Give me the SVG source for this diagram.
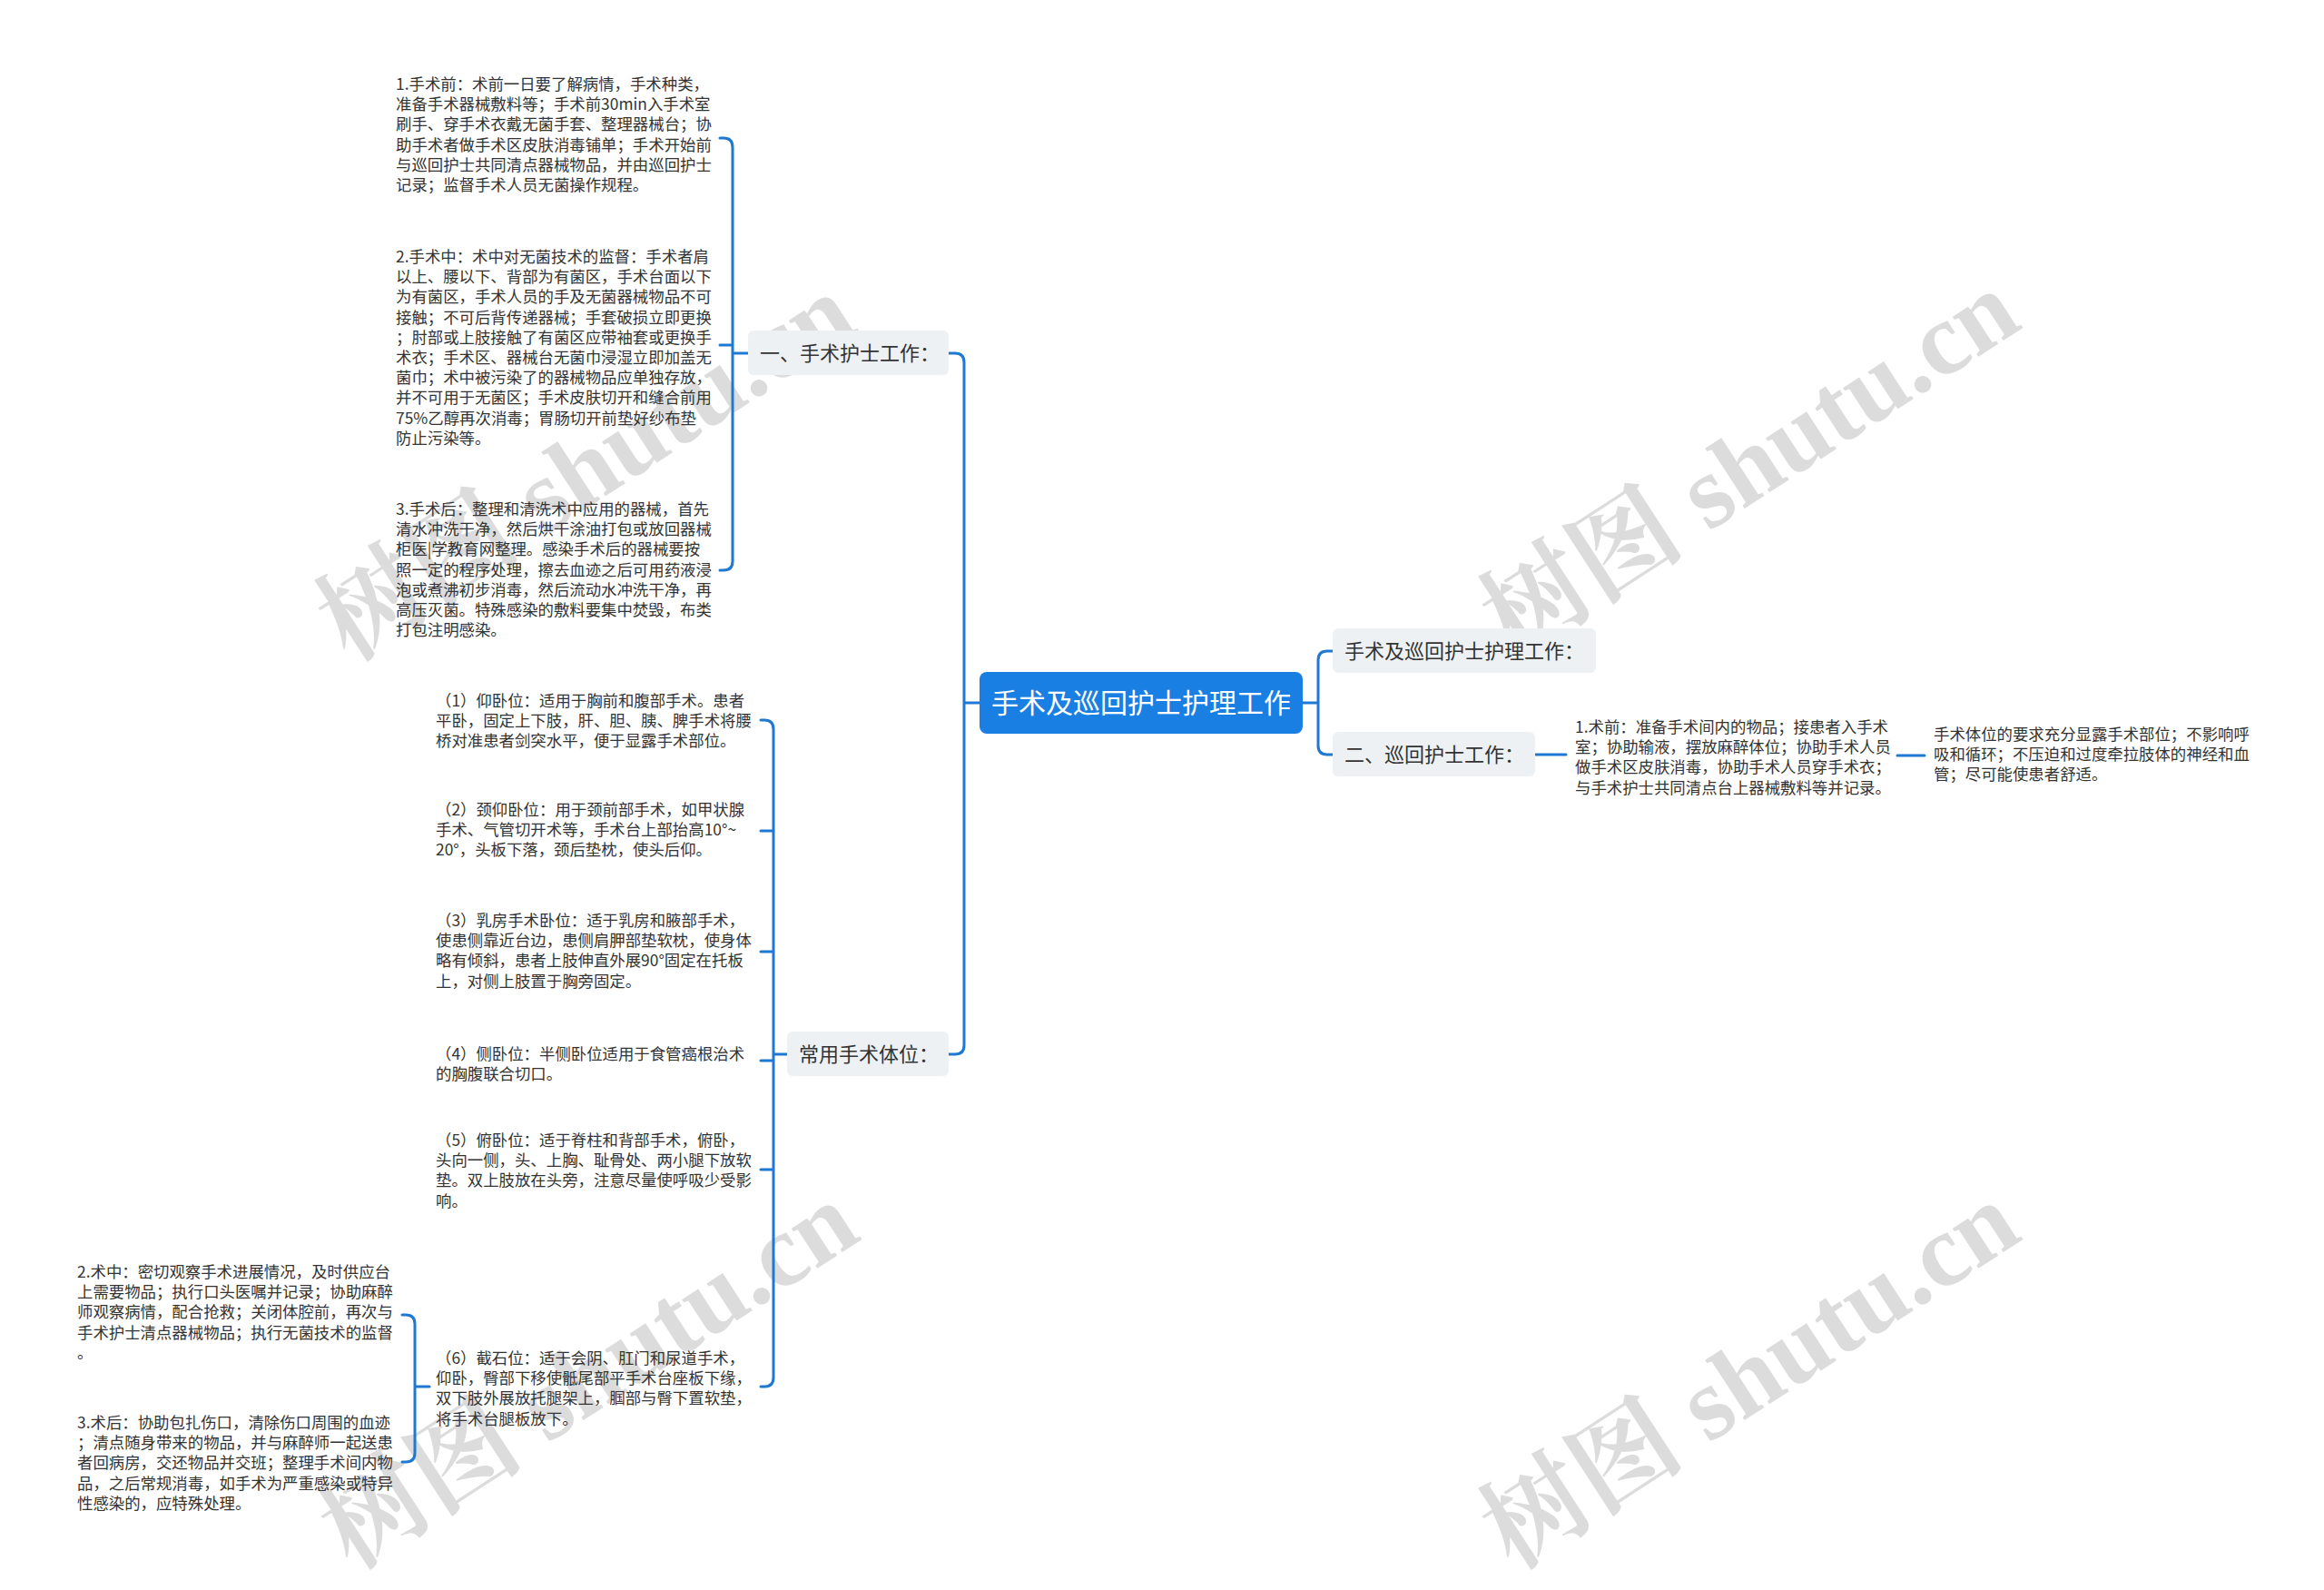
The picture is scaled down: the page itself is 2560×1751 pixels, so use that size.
<svg xmlns="http://www.w3.org/2000/svg" width="2560" height="1751" viewBox="0 0 2560 1751">
<style>
.t{font-family:"Noto Sans CJK SC","Noto Sans",sans-serif;font-size:17.4px;fill:#333}
.n{font-family:"Noto Sans CJK SC","Noto Sans",sans-serif;font-size:22px;fill:#333}
.box{fill:#eef1f4}
.c{fill:none;stroke:#1f78d1;stroke-width:3;stroke-linecap:round}
.wm{font-family:"Liberation Serif","Noto Serif CJK SC","Noto Sans CJK SC",serif;font-size:114px;font-weight:bold;fill:#cfcfcf;opacity:0.72}
</style>
<rect width="2560" height="1751" fill="#fff"/>
<g id="watermarks">
<text class="wm" x="645" y="553" text-anchor="middle" transform="rotate(-33 645 514)">树图 shutu.cn</text>
<text class="wm" x="1927" y="549" text-anchor="middle" transform="rotate(-33 1927 510)">树图 shutu.cn</text>
<text class="wm" x="648" y="1553" text-anchor="middle" transform="rotate(-33 648 1514)">树图 shutu.cn</text>
<text class="wm" x="1927" y="1553" text-anchor="middle" transform="rotate(-33 1927 1514)">树图 shutu.cn</text>
</g>
<g id="connectors">
<path class="c" d="M1045,389 H1052 Q1062,389 1062,399 V1151 Q1062,1161 1052,1161 H1045 M1062,774 H1079"/>
<path class="c" d="M1468,717 H1462 Q1452,717 1452,727 V821 Q1452,831 1462,831 H1468 M1435,774 H1452"/>
<path class="c" d="M1691,831 H1725 M2090,832 H2120"/>
<path class="c" d="M793,152 H797 Q807,152 807,162 V618 Q807,628 797,628 H793 M793,380 H807 M807,389 H824"/>
<path class="c" d="M838,793 H842 Q852,793 852,803 V1517 Q852,1527 842,1527 H838 M838,915 H852 M838,1048 H852 M838,1168 H852 M838,1288 H852 M852,1161 H867"/>
<path class="c" d="M473,1527 H457 M443,1448 H447 Q457,1448 457,1458 V1600 Q457,1610 447,1610 H443"/>
</g>
<g id="root">
<rect x="1079" y="740" width="356" height="68" rx="8" fill="#1a7fe3"/>
<text x="1257" y="785" text-anchor="middle" font-family="Noto Sans CJK SC,sans-serif" font-size="30" fill="#fff">手术及巡回护士护理工作</text>
</g>
<g id="n-right1">
<rect class="box" x="1468" y="692" width="290" height="49" rx="6"/>
<text class="n" x="1481" y="724.5">手术及巡回护士护理工作：</text>
</g>
<g id="n-right2">
<rect class="box" x="1468" y="806" width="223" height="49" rx="6"/>
<text class="n" x="1481" y="838.5">二、巡回护士工作：</text>
</g>
<g id="n-left1">
<rect class="box" x="824" y="364" width="221" height="49" rx="6"/>
<text class="n" x="837" y="396.5">一、手术护士工作：</text>
</g>
<g id="n-left2">
<rect class="box" x="867" y="1136" width="178" height="49" rx="6"/>
<text class="n" x="880" y="1168.5">常用手术体位：</text>
</g>
<g id="t-pre">
<text class="t" x="436" y="99"><tspan x="436">1.手术前：术前一日要了解病情，手术种类，</tspan><tspan x="436" dy="22.2">准备手术器械敷料等；手术前30min入手术室</tspan><tspan x="436" dy="22.2">刷手、穿手术衣戴无菌手套、整理器械台；协</tspan><tspan x="436" dy="22.2">助手术者做手术区皮肤消毒铺单；手术开始前</tspan><tspan x="436" dy="22.2">与巡回护士共同清点器械物品，并由巡回护士</tspan><tspan x="436" dy="22.2">记录；监督手术人员无菌操作规程。</tspan></text>
</g>
<g id="t-mid">
<text class="t" x="436" y="289"><tspan x="436">2.手术中：术中对无菌技术的监督：手术者肩</tspan><tspan x="436" dy="22.2">以上、腰以下、背部为有菌区，手术台面以下</tspan><tspan x="436" dy="22.2">为有菌区，手术人员的手及无菌器械物品不可</tspan><tspan x="436" dy="22.2">接触；不可后背传递器械；手套破损立即更换</tspan><tspan x="436" dy="22.2">；肘部或上肢接触了有菌区应带袖套或更换手</tspan><tspan x="436" dy="22.2">术衣；手术区、器械台无菌巾浸湿立即加盖无</tspan><tspan x="436" dy="22.2">菌巾；术中被污染了的器械物品应单独存放，</tspan><tspan x="436" dy="22.2">并不可用于无菌区；手术皮肤切开和缝合前用</tspan><tspan x="436" dy="22.2">75%乙醇再次消毒；胃肠切开前垫好纱布垫</tspan><tspan x="436" dy="22.2">防止污染等。</tspan></text>
</g>
<g id="t-post">
<text class="t" x="436" y="567"><tspan x="436">3.手术后：整理和清洗术中应用的器械，首先</tspan><tspan x="436" dy="22.2">清水冲洗干净，然后烘干涂油打包或放回器械</tspan><tspan x="436" dy="22.2">柜医|学教育网整理。感染手术后的器械要按</tspan><tspan x="436" dy="22.2">照一定的程序处理，擦去血迹之后可用药液浸</tspan><tspan x="436" dy="22.2">泡或煮沸初步消毒，然后流动水冲洗干净，再</tspan><tspan x="436" dy="22.2">高压灭菌。特殊感染的敷料要集中焚毁，布类</tspan><tspan x="436" dy="22.2">打包注明感染。</tspan></text>
</g>
<g id="p1">
<text class="t" x="480" y="778"><tspan x="480">（1）仰卧位：适用于胸前和腹部手术。患者</tspan><tspan x="480" dy="22.2">平卧，固定上下肢，肝、胆、胰、脾手术将腰</tspan><tspan x="480" dy="22.2">桥对准患者剑突水平，便于显露手术部位。</tspan></text>
</g>
<g id="p2">
<text class="t" x="480" y="898"><tspan x="480">（2）颈仰卧位：用于颈前部手术，如甲状腺</tspan><tspan x="480" dy="22.2">手术、气管切开术等，手术台上部抬高10°~</tspan><tspan x="480" dy="22.2">20°，头板下落，颈后垫枕，使头后仰。</tspan></text>
</g>
<g id="p3">
<text class="t" x="480" y="1020"><tspan x="480">（3）乳房手术卧位：适于乳房和腋部手术，</tspan><tspan x="480" dy="22.2">使患侧靠近台边，患侧肩胛部垫软枕，使身体</tspan><tspan x="480" dy="22.2">略有倾斜，患者上肢伸直外展90°固定在托板</tspan><tspan x="480" dy="22.2">上，对侧上肢置于胸旁固定。</tspan></text>
</g>
<g id="p4">
<text class="t" x="480" y="1167"><tspan x="480">（4）侧卧位：半侧卧位适用于食管癌根治术</tspan><tspan x="480" dy="22.2">的胸腹联合切口。</tspan></text>
</g>
<g id="p5">
<text class="t" x="480" y="1262"><tspan x="480">（5）俯卧位：适于脊柱和背部手术，俯卧，</tspan><tspan x="480" dy="22.2">头向一侧，头、上胸、耻骨处、两小腿下放软</tspan><tspan x="480" dy="22.2">垫。双上肢放在头旁，注意尽量使呼吸少受影</tspan><tspan x="480" dy="22.2">响。</tspan></text>
</g>
<g id="p6">
<text class="t" x="480" y="1502"><tspan x="480">（6）截石位：适于会阴、肛门和尿道手术，</tspan><tspan x="480" dy="22.2">仰卧，臀部下移使骶尾部平手术台座板下缘，</tspan><tspan x="480" dy="22.2">双下肢外展放托腿架上，腘部与臀下置软垫，</tspan><tspan x="480" dy="22.2">将手术台腿板放下。</tspan></text>
</g>
<g id="c-mid">
<text class="t" x="85" y="1407"><tspan x="85">2.术中：密切观察手术进展情况，及时供应台</tspan><tspan x="85" dy="22.2">上需要物品；执行口头医嘱并记录；协助麻醉</tspan><tspan x="85" dy="22.2">师观察病情，配合抢救；关闭体腔前，再次与</tspan><tspan x="85" dy="22.2">手术护士清点器械物品；执行无菌技术的监督</tspan><tspan x="85" dy="22.2">。</tspan></text>
</g>
<g id="c-post">
<text class="t" x="85" y="1573"><tspan x="85">3.术后：协助包扎伤口，清除伤口周围的血迹</tspan><tspan x="85" dy="22.2">；清点随身带来的物品，并与麻醉师一起送患</tspan><tspan x="85" dy="22.2">者回病房，交还物品并交班；整理手术间内物</tspan><tspan x="85" dy="22.2">品，之后常规消毒，如手术为严重感染或特异</tspan><tspan x="85" dy="22.2">性感染的，应特殊处理。</tspan></text>
</g>
<g id="c-pre">
<text class="t" x="1735" y="807"><tspan x="1735">1.术前：准备手术间内的物品；接患者入手术</tspan><tspan x="1735" dy="22.2">室；协助输液，摆放麻醉体位；协助手术人员</tspan><tspan x="1735" dy="22.2">做手术区皮肤消毒，协助手术人员穿手术衣；</tspan><tspan x="1735" dy="22.2">与手术护士共同清点台上器械敷料等并记录。</tspan></text>
</g>
<g id="req">
<text class="t" x="2130" y="815"><tspan x="2130">手术体位的要求充分显露手术部位；不影响呼</tspan><tspan x="2130" dy="22.2">吸和循环；不压迫和过度牵拉肢体的神经和血</tspan><tspan x="2130" dy="22.2">管；尽可能使患者舒适。</tspan></text>
</g>
</svg>
